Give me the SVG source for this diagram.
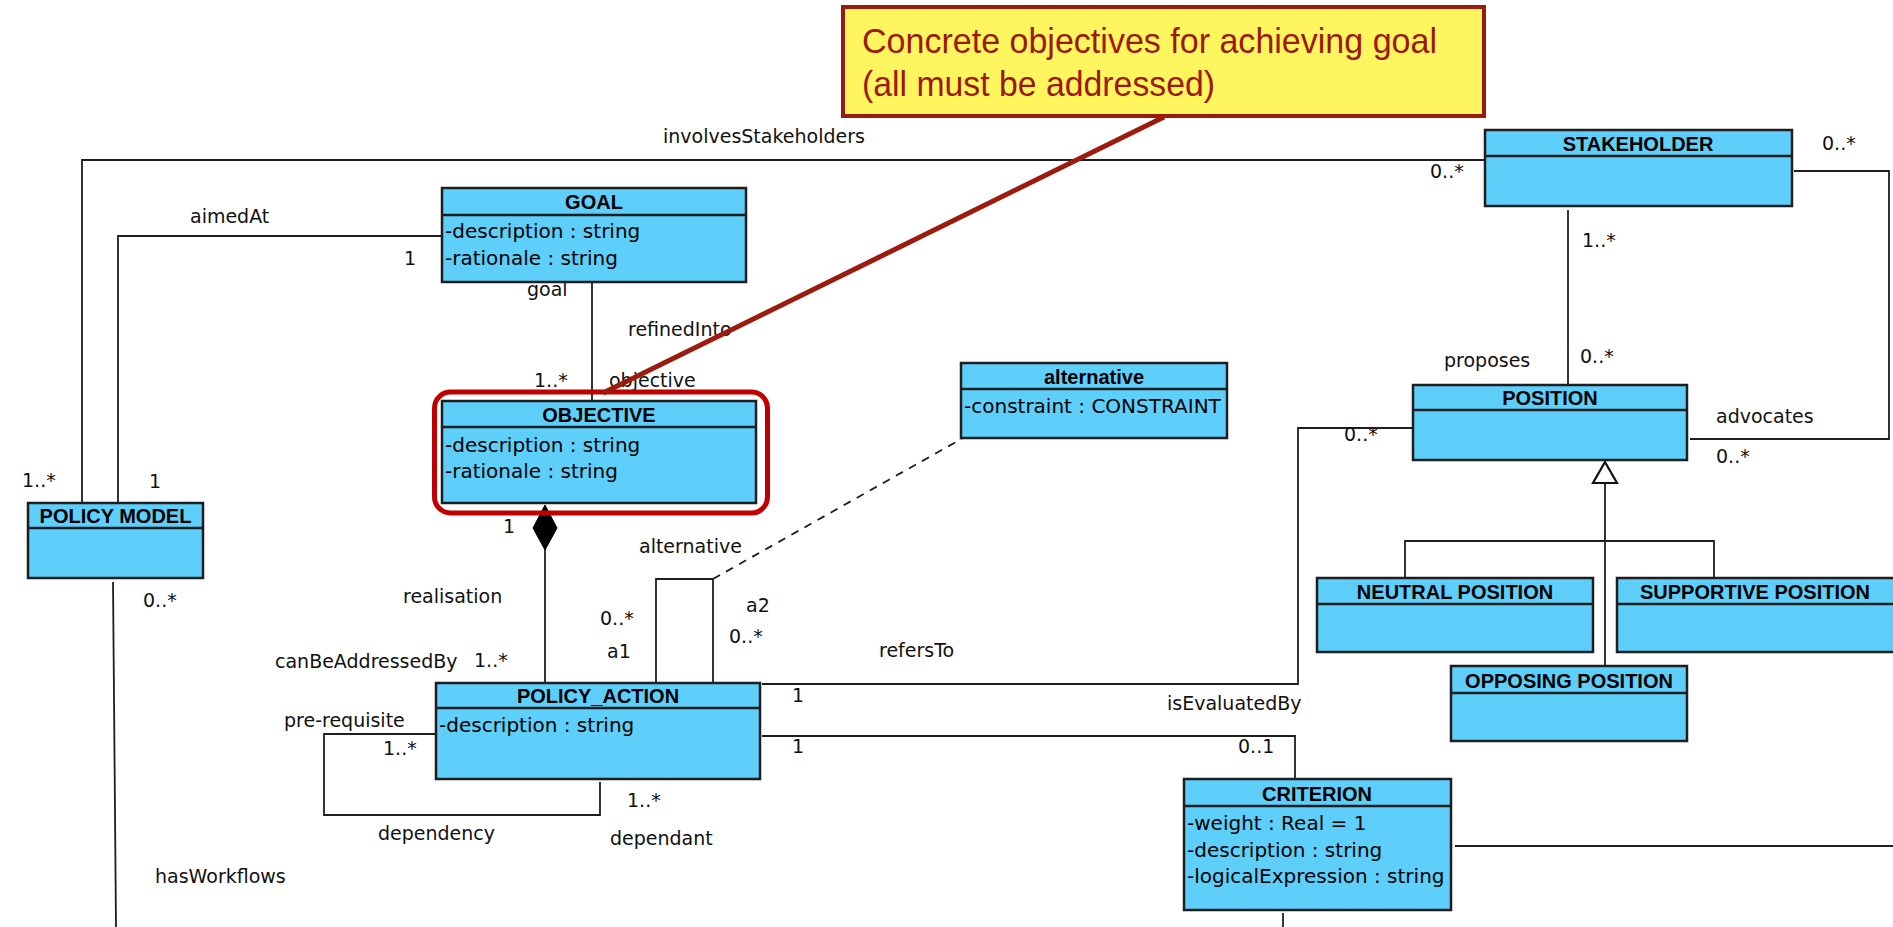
<svg xmlns="http://www.w3.org/2000/svg" width="1893" height="927" viewBox="0 0 1893 927">
  <style>
    .box { fill: #5DCFFA; stroke: #1E1E1E; stroke-width: 2.5; }
    .div { stroke: #1E1E1E; stroke-width: 2.5; }
    .hd { font-family: "Liberation Sans", Arial, sans-serif; font-weight: bold; font-size: 20px; fill: #000; text-anchor: middle; }
    .at { font-family: "DejaVu Sans", Verdana, sans-serif; font-size: 20px; fill: #000; }
    .lb { font-family: "DejaVu Sans", Verdana, sans-serif; font-size: 19px; fill: #111; }
    .ln { fill: none; stroke: #1E1E1E; stroke-width: 1.8; }
    .note-text { font-family: "Liberation Sans", Arial, sans-serif; font-size: 35px; fill: #9A1A0C; }
  </style>

  <rect width="1893" height="927" fill="#FFFFFF"/>

  <!-- associations -->
  <g id="connectors">
    <!-- involvesStakeholders -->
    <path class="ln" d="M82,503 V160 H1485"/>
    <!-- aimedAt -->
    <path class="ln" d="M118,503 V236 H442"/>
    <!-- refinedInto -->
    <path class="ln" d="M592,282 V401"/>
    <!-- hasWorkflows -->
    <path class="ln" d="M113,582 L116,927"/>
    <!-- realisation (composition) -->
    <path class="ln" d="M545,548 V683"/>
    <polygon points="545,505 557,528 545,550 533,528" fill="#000" stroke="#000" stroke-width="1"/>
    <!-- alternative self-association -->
    <path class="ln" d="M656,683 V579 H713 V683"/>
    <path class="ln" d="M713,579 L963,438" stroke-dasharray="8,7"/>
    <!-- dependency self-association -->
    <path class="ln" d="M436,734 H324 V815 H600 V782"/>
    <!-- refersTo -->
    <path class="ln" d="M762,684 H1298 V428 H1413"/>
    <!-- isEvaluatedBy -->
    <path class="ln" d="M762,736 H1295 V779"/>
    <!-- proposes -->
    <path class="ln" d="M1568,210 V385"/>
    <!-- advocates -->
    <path class="ln" d="M1794,171 H1889 V439 H1690"/>
    <!-- generalisation of positions -->
    <polygon points="1605,462 1617,483 1593,483" fill="#FFFFFF" stroke="#111" stroke-width="2.2"/>
    <path class="ln" d="M1605,483 V541" stroke-width="3.2"/>
    <path class="ln" d="M1405,578 V541 H1714 V578"/>
    <path class="ln" d="M1605,541 V666" stroke-width="1.4"/>
    <!-- criterion links -->
    <path class="ln" d="M1455,846 H1893"/>
    <path class="ln" d="M1283,913 V927"/>

    <!-- association labels -->
    <text class="lb" x="663" y="143">involvesStakeholders</text>
    <text class="lb" x="1430" y="178">0..*</text>
    <text class="lb" x="22" y="487">1..*</text>
    <text class="lb" x="149" y="488">1</text>
    <text class="lb" x="190" y="223">aimedAt</text>
    <text class="lb" x="404" y="265">1</text>
    <text class="lb" x="527" y="296">goal</text>
    <text class="lb" x="628" y="336">refinedInto</text>
    <text class="lb" x="534" y="387">1..*</text>
    <text class="lb" x="609" y="387">objective</text>
    <text class="lb" x="503" y="533">1</text>
    <text class="lb" x="639" y="553">alternative</text>
    <text class="lb" x="403" y="603">realisation</text>
    <text class="lb" x="600" y="625">0..*</text>
    <text class="lb" x="746" y="612">a2</text>
    <text class="lb" x="729" y="643">0..*</text>
    <text class="lb" x="607" y="658">a1</text>
    <text class="lb" x="275" y="668">canBeAddressedBy</text>
    <text class="lb" x="474" y="667">1..*</text>
    <text class="lb" x="284" y="727">pre-requisite</text>
    <text class="lb" x="383" y="755">1..*</text>
    <text class="lb" x="627" y="807">1..*</text>
    <text class="lb" x="378" y="840">dependency</text>
    <text class="lb" x="610" y="845">dependant</text>
    <text class="lb" x="143" y="607">0..*</text>
    <text class="lb" x="155" y="883">hasWorkflows</text>
    <text class="lb" x="879" y="657">refersTo</text>
    <text class="lb" x="792" y="702">1</text>
    <text class="lb" x="1344" y="441">0..*</text>
    <text class="lb" x="1167" y="710">isEvaluatedBy</text>
    <text class="lb" x="792" y="753">1</text>
    <text class="lb" x="1238" y="753">0..1</text>
    <text class="lb" x="1444" y="367">proposes</text>
    <text class="lb" x="1582" y="247">1..*</text>
    <text class="lb" x="1580" y="363">0..*</text>
    <text class="lb" x="1822" y="150">0..*</text>
    <text class="lb" x="1716" y="423">advocates</text>
    <text class="lb" x="1716" y="463">0..*</text>
  </g>

  <!-- classes -->
  <g id="goal">
    <rect class="box" x="442" y="188" width="304" height="94"/>
    <line class="div" x1="442" y1="215" x2="746" y2="215"/>
    <text class="hd" x="594" y="209">GOAL</text>
    <text class="at" x="445" y="238">-description : string</text>
    <text class="at" x="445" y="265">-rationale : string</text>
  </g>

  <g id="objective">
    <rect class="box" x="442" y="401" width="314" height="102"/>
    <line class="div" x1="442" y1="427" x2="756" y2="427"/>
    <text class="hd" x="599" y="422">OBJECTIVE</text>
    <text class="at" x="445" y="452">-description : string</text>
    <text class="at" x="445" y="478">-rationale : string</text>
  </g>

  <g id="alternative">
    <rect class="box" x="961" y="363" width="266" height="75"/>
    <line class="div" x1="961" y1="389" x2="1227" y2="389"/>
    <text class="hd" x="1094" y="384">alternative</text>
    <text class="at" x="964" y="413">-constraint : CONSTRAINT</text>
  </g>

  <g id="stakeholder">
    <rect class="box" x="1485" y="130" width="307" height="76"/>
    <line class="div" x1="1485" y1="156" x2="1792" y2="156"/>
    <text class="hd" x="1638" y="151">STAKEHOLDER</text>
  </g>

  <g id="position">
    <rect class="box" x="1413" y="385" width="274" height="75"/>
    <line class="div" x1="1413" y1="410" x2="1687" y2="410"/>
    <text class="hd" x="1550" y="405">POSITION</text>
  </g>

  <g id="neutral-position">
    <rect class="box" x="1317" y="578" width="276" height="74"/>
    <line class="div" x1="1317" y1="604" x2="1593" y2="604"/>
    <text class="hd" x="1455" y="599">NEUTRAL POSITION</text>
  </g>

  <g id="supportive-position">
    <rect class="box" x="1617" y="578" width="280" height="74"/>
    <line class="div" x1="1617" y1="604" x2="1897" y2="604"/>
    <text class="hd" x="1755" y="599">SUPPORTIVE POSITION</text>
  </g>

  <g id="opposing-position">
    <rect class="box" x="1451" y="666" width="236" height="75"/>
    <line class="div" x1="1451" y1="693" x2="1687" y2="693"/>
    <text class="hd" x="1569" y="688">OPPOSING POSITION</text>
  </g>

  <g id="criterion">
    <rect class="box" x="1184" y="779" width="267" height="131"/>
    <line class="div" x1="1184" y1="806" x2="1451" y2="806"/>
    <text class="hd" x="1317" y="801">CRITERION</text>
    <text class="at" x="1187" y="830">-weight : Real = 1</text>
    <text class="at" x="1187" y="857">-description : string</text>
    <text class="at" x="1187" y="883">-logicalExpression : string</text>
  </g>

  <g id="policy-action">
    <rect class="box" x="436" y="683" width="324" height="96"/>
    <line class="div" x1="436" y1="708" x2="760" y2="708"/>
    <text class="hd" x="598" y="703">POLICY_ACTION</text>
    <text class="at" x="439" y="732">-description : string</text>
  </g>

  <g id="policy-model">
    <rect class="box" x="28" y="503" width="175" height="75"/>
    <line class="div" x1="28" y1="528" x2="203" y2="528"/>
    <text class="hd" x="115.5" y="523">POLICY MODEL</text>
  </g>

  <!-- annotation -->
  <g id="note">
    <rect x="843" y="7" width="641" height="109" fill="#FFF55F" stroke="#991B0B" stroke-width="4"/>
    <text class="note-text" x="862" y="53" textLength="575" lengthAdjust="spacingAndGlyphs">Concrete objectives for achieving goal</text>
    <text class="note-text" x="862" y="96" textLength="353" lengthAdjust="spacingAndGlyphs">(all must be addressed)</text>
  </g>
  <g id="highlight">
    <rect x="434.5" y="392" width="333" height="121" rx="16" ry="16" fill="none" stroke="#C00000" stroke-width="5"/>
    <line x1="1164" y1="117" x2="603" y2="393" stroke="#9B1B0E" stroke-width="5"/>
  </g>
</svg>
